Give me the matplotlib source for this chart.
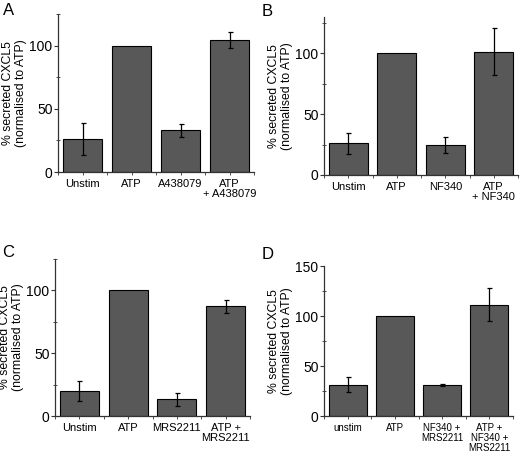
import matplotlib.pyplot as plt
from matplotlib.ticker import MultipleLocator

plt.rcParams["font.family"] = ["Liberation Sans", "DejaVu Sans"]

# panel data: labels, means, error (sem)
labels_a = ["Unstim", "ATP", "A438079", "ATP\n+ A438079"]
means_a = [26, 100, 33, 104.5]
errs_a = [12.5, 0, 5, 6.3]

labels_b = ["Unstim", "ATP", "NF340", "ATP\n+ NF340"]
means_b = [26, 100, 24.5, 101.5]
errs_b = [8.7, 0, 6.7, 19.6]

labels_c = ["Unstim", "ATP", "MRS2211", "ATP +\nMRS2211"]
means_c = [20, 100, 13.3, 87.2]
errs_c = [8, 0, 5, 5.5]

labels_d = ["unstim", "ATP", "NF340 +\nMRS2211", "ATP +\nNF340 +\nMRS2211"]
means_d = [31.5, 100, 31.3, 111.2]
errs_d = [7.2, 0, 1, 16.5]

W, H = 520, 453
fig = plt.figure(figsize=(W / 100, H / 100), dpi=100)

BAR = "#585858"
AXC = "#333333"


def px_axes(left, right, top, bottom):
    return fig.add_axes([left / W, (H - bottom) / H, (right - left) / W, (bottom - top) / H])


def draw(ax, labels, means, errs, ymax, ymajor, cat_size):
    x = list(range(len(labels)))
    ax.bar(x, means, width=0.8, color=BAR, edgecolor="black", linewidth=0.8, zorder=2)
    # only bars with a real spread get an error bar (ATP is the reference)
    ex = [i for i in x if errs[i] > 0]
    ax.errorbar(ex, [means[i] for i in ex], yerr=[errs[i] for i in ex], fmt="none",
                ecolor="black", elinewidth=0.9, capsize=1.8, capthick=0.9, zorder=3)
    ax.set_xlim(-0.5, len(labels) - 0.5)
    ax.set_ylim(0, ymax)
    ax.set_xticks(x)
    ax.set_xticklabels(labels, fontsize=cat_size, linespacing=1.0)
    ax.xaxis.set_minor_locator(MultipleLocator(1, offset=0.5))
    ax.yaxis.set_major_locator(MultipleLocator(ymajor))
    ax.yaxis.set_minor_locator(MultipleLocator(ymajor / 2))
    ax.tick_params(axis="y", which="major", direction="out", length=3, width=0.8,
                   labelsize=10, pad=1, color=AXC)
    ax.tick_params(axis="y", which="minor", direction="inout", length=3, width=0.6, color=AXC)
    ax.tick_params(axis="x", which="both", direction="out", length=2, width=0.6,
                   pad=3, color=AXC)
    for s in ["top", "right"]:
        ax.spines[s].set_visible(False)
    for s in ["left", "bottom"]:
        ax.spines[s].set_linewidth(0.9)
        ax.spines[s].set_color(AXC)
    ax.set_ylabel("% secreted CXCL5\n(normalised to ATP)", fontsize=8.8, linespacing=1.05,
                  labelpad=2)


ax_a = px_axes(58, 254, 14, 172)
draw(ax_a, labels_a, means_a, errs_a, 125, 50, 8)
ax_b = px_axes(324, 518, 17, 175)
draw(ax_b, labels_b, means_b, errs_b, 130, 50, 8)
ax_c = px_axes(55, 250, 259, 416)
draw(ax_c, labels_c, means_c, errs_c, 125, 50, 8)
ax_d = px_axes(324, 513, 266, 416)
draw(ax_d, labels_d, means_d, errs_d, 150, 50, 7)

for lab, (xp, yp) in zip("ABCD", [(3, 3), (262, 4), (2, 245), (262, 247)]):
    fig.text(xp / W, 1 - yp / H, lab, fontsize=12, ha="left", va="top")

fig.savefig("out.png", dpi=100)
